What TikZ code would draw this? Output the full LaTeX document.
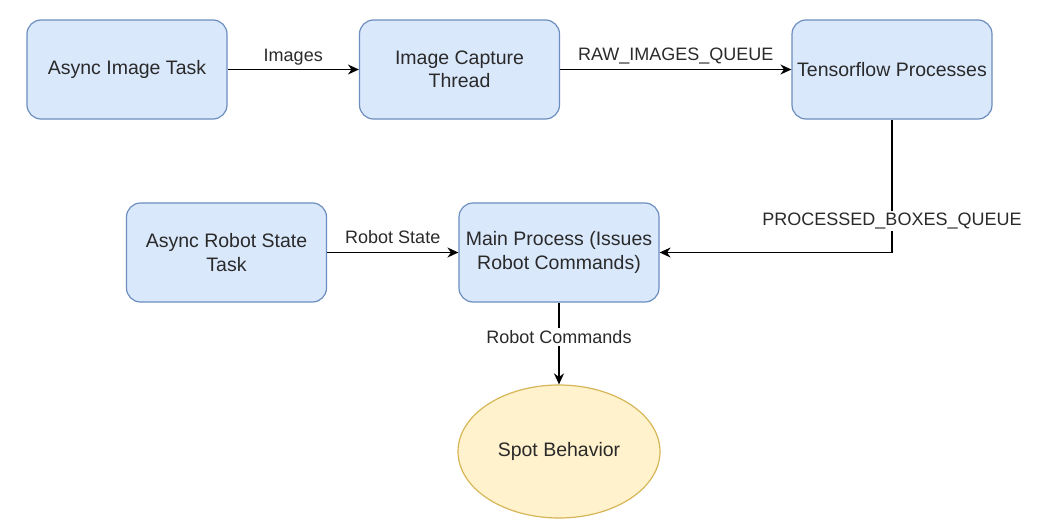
\documentclass[tikz,border=0pt]{standalone}
\usepackage{fontspec}
\setmainfont{Liberation Sans}
\usetikzlibrary{arrows.meta,shapes.geometric}
\definecolor{boxfill}{HTML}{DAE8FC}
\definecolor{boxdraw}{HTML}{6C8EBF}
\definecolor{ellfill}{HTML}{FFF2CC}
\definecolor{elldraw}{HTML}{D6B656}
\definecolor{txt}{HTML}{2A2A2A}
\tikzset{
  procbox/.style={draw=boxdraw, fill=boxfill, line width=1.2pt, rounded corners=14pt,
    minimum width=200pt, minimum height=99pt, inner sep=0pt, align=center,
    text=txt, font=\fontsize{19.5}{23.4}\selectfont},
  endell/.style={ellipse, draw=elldraw, fill=ellfill, line width=1.2pt,
    minimum width=202pt, minimum height=133pt, inner sep=0pt,
    text=txt, font=\fontsize{19.5}{23.4}\selectfont},
  conn/.style={line width=1.6pt, draw=black, -{Stealth[length=11pt,width=10pt]}},
  lbl/.style={text=txt, font=\fontsize{18}{21.6}\selectfont, inner sep=1pt, anchor=base},
  lblbg/.style={lbl, fill=white, inner sep=2pt}
}
\begin{document}
\begin{tikzpicture}[x=1pt,y=-1pt]
\useasboundingbox (0,0) rectangle (1052,530);
\node[procbox] (ait) at (127,69.5) {Async Image Task};
\node[procbox] (ict) at (459.5,69.5) {Image Capture\\Thread};
\node[procbox] (tfp) at (892,69.5) {Tensorflow Processes};
\node[procbox] (ars) at (226.5,252.5) {Async Robot State\\Task};
\node[procbox] (mp) at (559,252.5) {Main Process (Issues\\Robot Commands)};
\node[endell] (sb) at (559,451.5) {Spot Behavior};

\draw[conn] (ait) -- node[lbl, yshift=8pt] {Images} (ict);
\draw[conn] (ict) -- node[lbl, yshift=9pt] {RAW\_IMAGES\_QUEUE} (tfp);
\draw[conn] (tfp.south) |- node[lblbg, pos=0.40] {PROCESSED\_BOXES\_QUEUE} (mp.east);
\draw[conn] (ars) -- node[lbl, yshift=9pt] {Robot State} (mp);
\draw[conn] (mp) -- node[lblbg, pos=0.5] {Robot Commands} (sb);
\end{tikzpicture}
\end{document}
